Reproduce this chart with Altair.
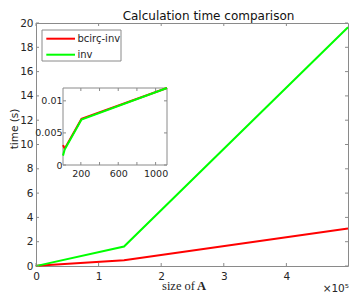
import altair as alt
import pandas as pd

# ---------------- data ----------------
series = ["bcirç-inv", "inv"]
colors = ["#ff0000", "#00ff00"]
sizes = [9, 27, 207, 1122, 140625, 498436]
t_bcirc = [0.0031, 0.00255, 0.0072, 0.0120, 0.48, 3.08]
t_inv = [0.00146, 0.0024, 0.0071, 0.0120, 1.60, 19.65]

main_xticks = [0, 100000, 200000, 300000, 400000]
main_yticks = [0, 2, 4, 6, 8, 10, 12, 14, 16, 18, 20]
inset_xticks = [200, 400, 600, 800, 1000]
inset_xlabels = [200, 600, 1000]
inset_yticks = [0, 0.005, 0.01]

title_text = "Calculation time comparison"
xlabel_text = "size of"
xlabel_bold = "A"
ylabel_text = "time (s)"
exp_text = "×10⁵"

# ---------------- layout ----------------
W, H = 312, 243
IX0, IX1, IY0, IY1 = 27, 131, 65, 142
FRAME = "#8a8a8a"
TXT = "#262626"
FONT = "DejaVu Sans"

rows = []
for s, ts in zip(series, [t_bcirc, t_inv]):
    for x, t in zip(sizes, ts):
        rows.append({"series": s, "size": x, "time": t})
df = pd.DataFrame(rows)
inset_df = df[df["size"] <= 1122]

main_x = alt.Scale(domain=[0, 498436], nice=False, zero=False)
main_y = alt.Scale(domain=[0, 20], nice=False, zero=False)
in_x = alt.Scale(domain=[9, 1122], range=[IX0, IX1], nice=False, zero=False)
in_y = alt.Scale(domain=[0, 0.012], range=[IY1, IY0], nice=False, zero=False)
col = alt.Scale(domain=series, range=colors)

one = pd.DataFrame({"a": [0]})

main_lines = alt.Chart(df).mark_line(strokeWidth=2).encode(
    x=alt.X("size:Q", scale=main_x, axis=alt.Axis(
        orient="bottom", values=main_xticks, title=None,
        labelExpr="format(datum.value / 100000, 'd')",
        labelPadding=5, labelFontSize=10.5)),
    y=alt.Y("time:Q", scale=main_y, axis=alt.Axis(
        orient="left", values=main_yticks, title=None, format="d",
        labelPadding=3, labelFontSize=10.5)),
    color=alt.Color("series:N", scale=col, legend=None),
)

def xticks(vals, scale, y0, y1):
    return alt.Chart(pd.DataFrame({"v": vals})).mark_rule(color=FRAME, strokeWidth=1).encode(
        x=alt.X("v:Q", scale=scale, axis=None), y=alt.value(y0), y2=alt.value(y1))

def yticks(vals, scale, x0, x1):
    return alt.Chart(pd.DataFrame({"v": vals})).mark_rule(color=FRAME, strokeWidth=1).encode(
        y=alt.Y("v:Q", scale=scale, axis=None), x=alt.value(x0), x2=alt.value(x1))

main_ticks = [
    xticks(main_xticks, main_x, H, H - 3),
    xticks(main_xticks, main_x, 0, 3),
    yticks(main_yticks, main_y, 0, 3),
    yticks(main_yticks, main_y, W, W - 3),
]

inset_box = alt.Chart(one).mark_rect(fill="white", stroke=FRAME, strokeWidth=1).encode(
    x=alt.value(IX0), x2=alt.value(IX1), y=alt.value(IY0), y2=alt.value(IY1))

inset_lines = alt.Chart(inset_df).mark_line(strokeWidth=2).encode(
    x=alt.X("size:Q", scale=in_x, axis=alt.Axis(
        orient="bottom", offset=-(H - IY1), values=inset_xlabels, title=None,
        format="d", labelPadding=3, labelFontSize=9.5)),
    y=alt.Y("time:Q", scale=in_y, axis=alt.Axis(
        orient="left", offset=-IX0, values=inset_yticks, title=None,
        format=".3~f", labelPadding=1, labelFontSize=9.5)),
    color=alt.Color("series:N", scale=col, legend=None),
)

inset_ticks = [
    xticks(inset_xticks, in_x, IY1, IY1 - 3),
    xticks(inset_xticks, in_x, IY0, IY0 + 3),
    yticks(inset_yticks, in_y, IX0, IX0 + 3),
    yticks(inset_yticks, in_y, IX1, IX1 - 3),
]

# legend (drawn by hand inside the axes, as in the reference)
LX0, LX1, LY0, LY1 = 6, 85, 7, 38
legend_layers = [alt.Chart(one).mark_rect(fill="white", stroke=FRAME, strokeWidth=1).encode(
    x=alt.value(LX0), x2=alt.value(LX1), y=alt.value(LY0), y2=alt.value(LY1))]
for i, (s, c) in enumerate(zip(series, colors)):
    ly = 15.7 + 16 * i
    legend_layers.append(alt.Chart(one).mark_rule(color=c, strokeWidth=2).encode(
        x=alt.value(10.3), x2=alt.value(39), y=alt.value(ly)))
    legend_layers.append(alt.Chart(one).mark_text(
        text=s, font=FONT, fontSize=10, color=TXT, align="left", baseline="alphabetic").encode(
        x=alt.value(41.5), y=alt.value(ly + 3.6)))

def label(text, x, y, **kw):
    opts = dict(font=FONT, fontSize=10.5, color=TXT, align="center", baseline="alphabetic")
    opts.update(kw)
    return alt.Chart(one).mark_text(text=text, **opts).encode(x=alt.value(x), y=alt.value(y))

texts = [
    label(title_text, 172.5, -3, fontSize=12, color="#111"),
    label(ylabel_text, -21, 106, angle=270, baseline="middle", fontSize=10.5),
    label(xlabel_text, 159, 267, align="right", font="Liberation Serif", fontSize=12.5),
    label(xlabel_bold, 161, 267, align="left", font="Liberation Serif", fontSize=12.5, fontWeight="bold"),
    label(exp_text, 313, 269, align="right", fontSize=10.5),
]

chart = alt.layer(
    main_lines, *main_ticks, inset_box, inset_lines, *inset_ticks, *legend_layers, *texts
).resolve_scale(
    x="independent", y="independent", color="independent"
).properties(
    width=W, height=H,
    autosize=alt.AutoSizeParams(type="none"),
    padding={"left": 28, "top": 15, "right": 1, "bottom": 27},
).configure_view(
    stroke=FRAME, strokeWidth=1
).configure_axis(
    labelFont=FONT, labelColor=TXT, grid=False, domain=False, ticks=False,
    labelFlush=False
)

chart.save("out.html", embed_options={"renderer": "svg", "actions": False})
